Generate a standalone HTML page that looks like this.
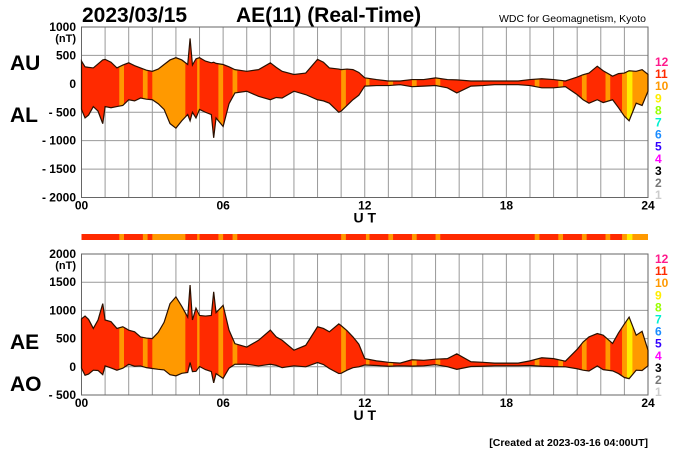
<!DOCTYPE html>
<html><head><meta charset="utf-8"><style>
body{margin:0;background:#fff;}
svg{display:block;font-family:"Liberation Sans",sans-serif;}
</style></head><body>
<svg id="c" width="700" height="450" viewBox="0 0 700 450">
<text x="82" y="22" font-size="21" font-weight="bold">2023/03/15</text>
<text x="236" y="22" font-size="21" font-weight="bold">AE(11) (Real-Time)</text>
<text x="646" y="22" font-size="10.5" text-anchor="end">WDC for Geomagnetism, Kyoto</text>
<text x="10" y="70" font-size="21" font-weight="bold">AU</text>
<text x="10" y="122" font-size="21" font-weight="bold">AL</text>
<text x="10" y="349" font-size="21" font-weight="bold">AE</text>
<text x="10" y="391" font-size="21" font-weight="bold">AO</text>
<text x="648" y="446" font-size="10.5" font-weight="bold" text-anchor="end">[Created at 2023-03-16 04:00UT]</text>
<g id="topPanel"></g><g id="botPanel"></g><g id="bar"></g><g id="leg"></g>
</svg>
<script>
const hours=[0,0.15,0.3,0.5,0.7,0.9,1,1.25,1.5,1.75,2,2.25,2.5,2.75,3,3.25,3.5,3.75,4,4.25,4.5,4.6,4.7,4.85,5,5.25,5.5,5.6,5.7,6,6.25,6.5,7,7.5,8,8.25,8.5,9,9.5,10,10.25,10.5,10.9,11,11.25,11.5,11.75,12,12.5,13,13.5,14,14.5,15,15.5,15.9,16.5,17,17.5,18,18.5,19,19.5,20,20.5,21,21.25,21.5,21.85,22.1,22.5,22.75,23,23.2,23.5,23.75,24];
const auValues=[400,300,290,280,350,420,430,380,280,330,370,320,280,240,220,260,340,420,460,420,340,800,330,440,460,400,370,380,360,340,300,250,220,250,370,290,220,165,190,430,380,280,260,250,260,250,200,105,75,50,50,75,75,105,75,70,50,50,50,50,50,75,90,75,50,120,160,190,310,230,135,180,190,230,220,250,165];
const alValues=[-450,-600,-550,-400,-480,-700,-400,-420,-400,-380,-280,-300,-250,-270,-280,-350,-450,-700,-780,-650,-540,-650,-500,-600,-450,-500,-540,-950,-600,-750,-350,-160,-130,-220,-280,-240,-250,-130,-190,-280,-300,-340,-500,-480,-380,-280,-200,-40,-30,-30,-15,-50,-40,-30,-70,-160,-40,-30,-15,-15,-15,-30,-70,-70,-50,-190,-280,-340,-280,-330,-280,-420,-570,-650,-340,-380,-130];
const segStart=[1.6,2.6,3.0,4.9,5.8,6.4,11.0,12.05,13.0,14.0,15.0,19.2,20.2,21.2,22.2,22.9,23.1,23.35];
const segEnd=[1.8,2.8,4.4,5.0,6.0,6.6,11.2,12.2,13.2,14.2,15.2,19.4,20.4,21.4,22.4,23.1,23.35,24];
const segLevel=[10,10,10,10,10,10,10,10,10,10,10,10,10,10,10,10,9,10];
const topTicks=["1000","500","0","- 500","- 1000","- 1500","- 2000"];
const botTicks=["2000","1500","1000","500","0","- 500"];
const xTicks=["00","06","12","18","24"];
const legendLevels=["12","11","10","9","8","7","6","5","4","3","2","1"];
const legendColors=["#ff1a8c","#ff2a00","#ff9900","#ffee00","#99ff00","#00f0d0","#1a8cff","#3300ff","#ff00ff","#000000","#777777","#cccccc"];
const NS="http://www.w3.org/2000/svg";
const X0=81.5,X1=648;
const xs=h=>X0+(X1-X0)*h/24;
function mk(p,t,a){const e=document.createElementNS(NS,t);for(const k in a)e.setAttribute(k,a[k]);p.appendChild(e);return e;}
const colorOf=l=>l===9?"#ffee00":l===10?"#ff9900":"#ff2a00";
function panel(g,id,yTop,yBot,vTop,vBot,upper,lower,ticks){
  const y=v=>yTop+(vTop-v)*(yBot-yTop)/(vTop-vBot);
  for(let h=0;h<=24;h++){const l=mk(g,'line',{x1:xs(h),x2:xs(h),y1:yTop,y2:yBot,stroke:'#999','stroke-width':1});
    
    }
  ticks.forEach((t,i)=>{const v=vTop-i*500;const l=mk(g,'line',{x1:X0,x2:X1,y1:y(v),y2:y(v),stroke:'#999','stroke-width':1});
    
    
    const tx=mk(g,'text',{x:76,y:y(v)+4,'font-size':12,'font-weight':'bold','text-anchor':'end'});tx.textContent=t;
    
    });
  const nt=mk(g,'text',{x:76,y:y(vTop)+15,'font-size':11,'font-weight':'bold','text-anchor':'end'});nt.textContent='(nT)';
  
  
  mk(g,'rect',{x:X0,y:yTop,width:X1-X0,height:yBot-yTop,fill:'none',stroke:'#666'});
  let d='M'+hours.map((h,i)=>xs(h)+','+y(upper[i])).join('L');
  for(let i=hours.length-1;i>=0;i--)d+='L'+xs(hours[i])+','+y(lower[i]);d+='Z';
  const cp=mk(g,'clipPath',{id:id});mk(cp,'path',{d:d});
  const fg=mk(g,'g',{'clip-path':'url(#'+id+')'});
  const bg=mk(fg,'rect',{x:X0,y:yTop,width:X1-X0,height:yBot-yTop,fill:'#ff2a00'});
  
  
  segStart.forEach((s,i)=>{const r=mk(fg,'rect',{x:xs(s),y:yTop,width:xs(segEnd[i])-xs(s),height:yBot-yTop,fill:colorOf(segLevel[i])});
    
    });
  const o=mk(g,'path',{d:d,fill:'none',stroke:'#2a1000','stroke-width':1.2});
  
  
  xTicks.forEach((t,i)=>{const tx=mk(g,'text',{x:xs(i*6),y:yBot+12,'font-size':12,'font-weight':'bold','text-anchor':'middle'});tx.textContent=t;
    
    });
  const ut=mk(g,'text',{x:xs(12),y:yBot+25,'font-size':14,'font-weight':'bold','text-anchor':'middle'});ut.textContent='U T';
  
  
}
const topG=document.getElementById('topPanel'),botG=document.getElementById('botPanel');
panel(topG,'ct',27,197.5,1000,-2000,auValues,alValues,topTicks);
const ae=auValues.map((u,i)=>u-alValues[i]);
const ao=auValues.map((u,i)=>(u+alValues[i])/2);
panel(botG,'cb',254,395,2000,-500,ae,ao,botTicks);
const bar=document.getElementById('bar');
const br=mk(bar,'rect',{x:X0,y:234,width:X1-X0,height:6,fill:'#ff2a00'});


segStart.forEach((s,i)=>{const r=mk(bar,'rect',{x:xs(s),y:234,width:xs(segEnd[i])-xs(s),height:6,fill:colorOf(segLevel[i])});
  
  });
const leg=document.getElementById('leg');
[[66,12.1],[263,12.1]].forEach(([y0,dy])=>{legendLevels.forEach((t,i)=>{const tx=mk(leg,'text',{x:655,y:y0+i*dy,'font-size':12,'font-weight':'bold',fill:legendColors[i]});tx.textContent=t;
  
  });});
</script>
</body></html>
